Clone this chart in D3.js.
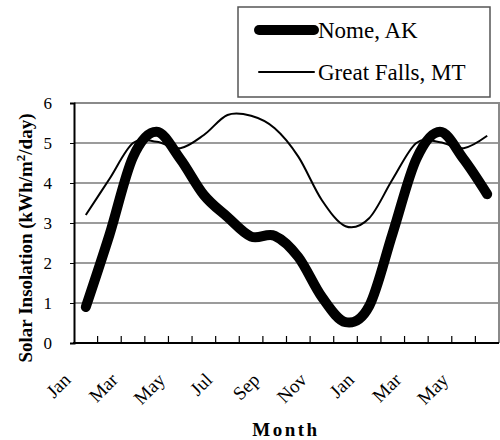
<!DOCTYPE html>
<html lang="en">
<head>
    <meta charset="UTF-8">
    <title>Solar Insolation</title>
</head>

<style>

body {
    margin: 0;
    background: white;
}

svg text {
    font-family: "Liberation Serif", "Times New Roman", Times, serif !important;
    fill: black;
}

.grid line {
    stroke: #7a7a7a;
    stroke-width: 1.5;
}

.title {
    font-weight: bold;
    font-size: 19px;
}

</style>

<svg height="440" width="500"></svg>

<script src="https://d3js.org/d3.v7.min.js"></script>

<script>

    var translate = function(left, top) {
        return "translate(" + left + "," + top + ")";
    };

    var months = ["Jan", "Feb", "Mar", "Apr", "May", "Jun", "Jul", "Aug", "Sep", "Oct", "Nov", "Dec",
                  "Jan2", "Feb2", "Mar2", "Apr2", "May2", "Jun2"];
    var monthLabels = ["Jan", "", "Mar", "", "May", "", "Jul", "", "Sep", "", "Nov", "",
                       "Jan", "", "Mar", "", "May", ""];
    var nome = [0.9, 2.7, 4.65, 5.28, 4.6, 3.7, 3.15, 2.66, 2.68, 2.15, 1.15, 0.52,
                0.92, 2.75, 4.6, 5.28, 4.6, 3.72];
    var greatFalls = [3.2, 4.1, 5.0, 5.03, 4.87, 5.2, 5.7, 5.68, 5.37, 4.66, 3.57, 2.92,
                      3.12, 4.1, 5.0, 5.02, 4.87, 5.18];
    var yTicks = [0, 1, 2, 3, 4, 5, 6];

    var svg = d3.select("svg");

    var plot = {left: 74, right: 499, top: 103, bottom: 343};

    var x = d3.scaleBand().domain(months).range([plot.left, plot.right]);
    var y = d3.scaleLinear().domain([0, 6]).range([plot.bottom, plot.top]);

    // gridlines
    svg.append("g")
        .attr("class", "grid")
        .selectAll("line")
        .data(yTicks.slice(1, 6))
        .enter()
        .append("line")
        .attr("x1", plot.left)
        .attr("x2", plot.right)
        .attr("y1", function(d) { return y(d); })
        .attr("y2", function(d) { return y(d); });

    // frame top / right
    svg.append("path")
        .attr("d", "M" + plot.left + "," + plot.top + "H" + plot.right + "V" + plot.bottom)
        .attr("fill", "none")
        .attr("stroke", "#8a8a8a")
        .attr("stroke-width", 2);

    // y axis
    var yAxis = svg.append("g")
        .attr("transform", translate(plot.left, 0))
        .call(d3.axisLeft(y).tickValues(yTicks).tickFormat(d3.format("d")).tickSize(4).tickPadding(18));
    yAxis.attr("font-family", null);
    yAxis.select(".domain").attr("stroke-width", 2);
    yAxis.selectAll("text")
        .attr("font-size", null)
        .style("font-size", "17px");

    // x axis, ticks between categories pointing up
    var bounds = months.slice(1).map(function(m) { return x(m); });
    svg.append("g")
        .selectAll("line")
        .data(bounds)
        .enter()
        .append("line")
        .attr("x1", function(d) { return d; })
        .attr("x2", function(d) { return d; })
        .attr("y1", plot.bottom)
        .attr("y2", plot.bottom - 7)
        .attr("stroke", "black")
        .attr("stroke-width", 1.2);
    svg.append("line")
        .attr("x1", plot.left - 1)
        .attr("x2", plot.right)
        .attr("y1", plot.bottom)
        .attr("y2", plot.bottom)
        .attr("stroke", "black")
        .attr("stroke-width", 2);

    svg.append("g")
        .selectAll("text")
        .data(months)
        .enter()
        .append("text")
        .attr("text-anchor", "end")
        .style("font-size", "19px")
        .attr("transform", function(d) {
            var cx = x(d) + x.bandwidth() / 2 - 14;
            return translate(cx, 381) + " rotate(-45)";
        })
        .text(function(d, i) { return monthLabels[i]; });

    // lines
    var line = function(values) {
        return d3.line()
            .x(function(d, i) { return x(months[i]) + x.bandwidth() / 2; })
            .y(function(d) { return y(d); })
            .curve(d3.curveCardinal.tension(0))(values);
    };

    svg.append("path")
        .attr("d", line(greatFalls))
        .attr("fill", "none")
        .attr("stroke", "black")
        .attr("stroke-width", 2);

    svg.append("path")
        .attr("d", line(nome))
        .attr("fill", "none")
        .attr("stroke", "black")
        .attr("stroke-width", 10)
        .attr("stroke-linecap", "round")
        .attr("stroke-linejoin", "round");

    // axis titles
    svg.append("text")
        .attr("class", "title")
        .attr("text-anchor", "middle")
        .attr("transform", translate(32, 238) + " rotate(-90)")
        .html("Solar Insolation (kWh/m<tspan dy='-7' font-size='13px'>2</tspan><tspan dy='7'>/day)</tspan>");

    svg.append("text")
        .attr("class", "title")
        .attr("x", 286)
        .attr("y", 436)
        .attr("text-anchor", "middle")
        .style("letter-spacing", "2.5px")
        .text("Month");

    // legend
    var legend = svg.append("g");
    legend.append("rect")
        .attr("x", 238)
        .attr("y", 7)
        .attr("width", 252)
        .attr("height", 90)
        .attr("fill", "white")
        .attr("stroke", "#555")
        .attr("stroke-width", 1.5);

    var legendItems = [
        {name: "Nome, AK", width: 10, y: 30},
        {name: "Great Falls, MT", width: 2, y: 72}
    ];

    legend.selectAll(".key")
        .data(legendItems)
        .enter()
        .append("line")
        .attr("x1", 259)
        .attr("x2", 314)
        .attr("y1", function(d) { return d.y; })
        .attr("y2", function(d) { return d.y; })
        .attr("stroke", "black")
        .attr("stroke-linecap", "round")
        .attr("stroke-width", function(d) { return d.width; });

    legend.selectAll(".label")
        .data(legendItems)
        .enter()
        .append("text")
        .attr("x", 318)
        .attr("y", function(d) { return d.y + 8; })
        .style("font-size", "23px")
        .text(function(d) { return d.name; });

</script>

</html>
